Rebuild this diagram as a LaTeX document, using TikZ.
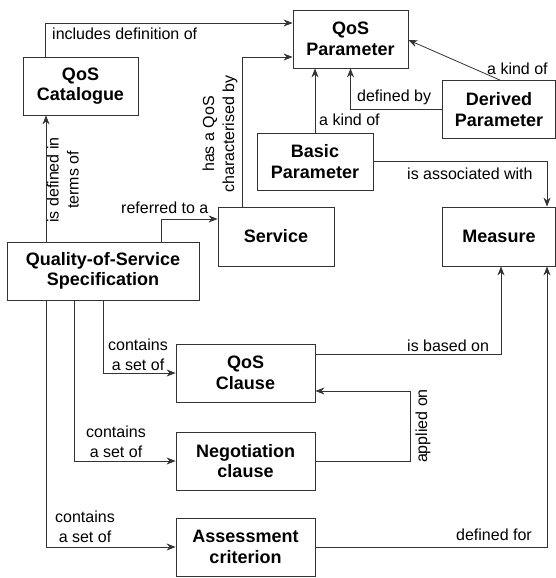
\documentclass[tikz,border=0pt]{standalone}
\usepackage{fontspec}
\setmainfont{Liberation Sans}
\usetikzlibrary{arrows.meta}

\tikzset{
	box/.style={draw=black!80, line width=0.8pt, align=center, inner sep=0pt,
		font=\fontsize{18}{20.5}\selectfont\bfseries, minimum height=58pt},
	lbl/.style={font=\fontsize{16}{20}\selectfont, inner sep=0pt, align=center},
	arr/.style={draw=black!80, line width=0.8pt, -{Stealth[length=9pt,width=7pt]}}
}

\begin{document}
\begin{tikzpicture}[x=1pt, y=1pt]

		\useasboundingbox (0,0) rectangle (556,-578);

		% boxes
		\node[box, minimum width=115pt] (param) at (350.5,-39) {QoS\\Parameter};
		\node[box, minimum width=115pt] (cat) at (80.5,-86) {QoS\\Catalogue};
		\node[box, minimum width=113pt] (derived) at (499,-109.5) {Derived\\Parameter};
		\node[box, minimum width=116pt, minimum height=57pt] (basic) at (315,-161.5) {Basic\\Parameter};
		\node[box, minimum width=116pt, minimum height=59pt] (service) at (276,-236.5) {Service};
		\node[box, minimum width=113pt, minimum height=59pt] (measure) at (499,-236.5) {Measure};
		\node[box, minimum width=192pt] (spec) at (103,-271) {Quality-of-Service\\Specification};
		\node[box, minimum width=139pt] (clause) at (245.5,-373) {QoS\\Clause};
		\node[box, minimum width=139pt] (nego) at (245.5,-461) {Negotiation\\clause};
		\node[box, minimum width=139pt] (assess) at (245.5,-547) {Assessment\\criterion};

		% upper part
		\draw[arr] ([xshift=-35.5pt]cat.north) |- ([yshift=16pt]param.west);
		\node[lbl, anchor=west] (l1) at (52,-34) {includes definition of};

		\draw[arr] ([xshift=-34pt]service.north) |- ([yshift=-18pt]param.west);
		\node[lbl, rotate=90] (l2) at (220,-134) {has a QoS\\characterised by};

		\draw[arr] (basic.north) -- (basic.north |- param.south);
		\node[lbl, anchor=west] (l3) at (319,-120) {a kind of};

		\draw[arr] (derived.west) -| (param.south);
		\node[lbl, anchor=west] (l4) at (357,-97) {defined by};

		\draw[arr] ([xshift=1pt]derived.north) -- ([yshift=-1pt]param.east);
		\node[lbl, anchor=west] (l5) at (487,-69) {a kind of};

		\draw[arr] (basic.east) -| ([xshift=48pt]measure.north);
		\node[lbl, anchor=west] (l6) at (407,-174) {is associated with};

		% specification
		\draw[arr] ([xshift=-57pt]spec.north) -- ([xshift=-57pt]spec.north |- cat.south);
		\node[lbl, rotate=90] (l7) at (63,-180) {is defined in\\terms of};

		\draw[arr] ([xshift=58pt]spec.north) |- ([yshift=17.5pt]service.west);
		\node[lbl, anchor=west] (l8) at (121,-208) {referred to a};

		\draw[arr] (spec.south) |- (clause.west);
		\node[lbl] (l9) at (138,-355) {contains\\a set of};

		\draw[arr] ([xshift=-29pt]spec.south) |- (nego.west);
		\node[lbl] (l10) at (116,-442) {contains\\a set of};

		\draw[arr] ([xshift=-57pt]spec.south) |- (assess.west);
		\node[lbl] (l11) at (85,-527) {contains\\a set of};

		% clauses
		\draw[arr] ([yshift=19pt]clause.east) -| ([xshift=2pt]measure.south);
		\node[lbl, anchor=west] (l12) at (407,-346) {is based on};

		\draw[arr] (nego.east) -- ++(95,0) |- ([yshift=-18pt]clause.east);
		\node[lbl, rotate=90] (l13) at (423,-426) {applied on};

		\draw[arr] (assess.east) -| ([xshift=48pt]measure.south);
		\node[lbl, anchor=west] (l14) at (456,-535) {defined for};

\end{tikzpicture}
\end{document}
